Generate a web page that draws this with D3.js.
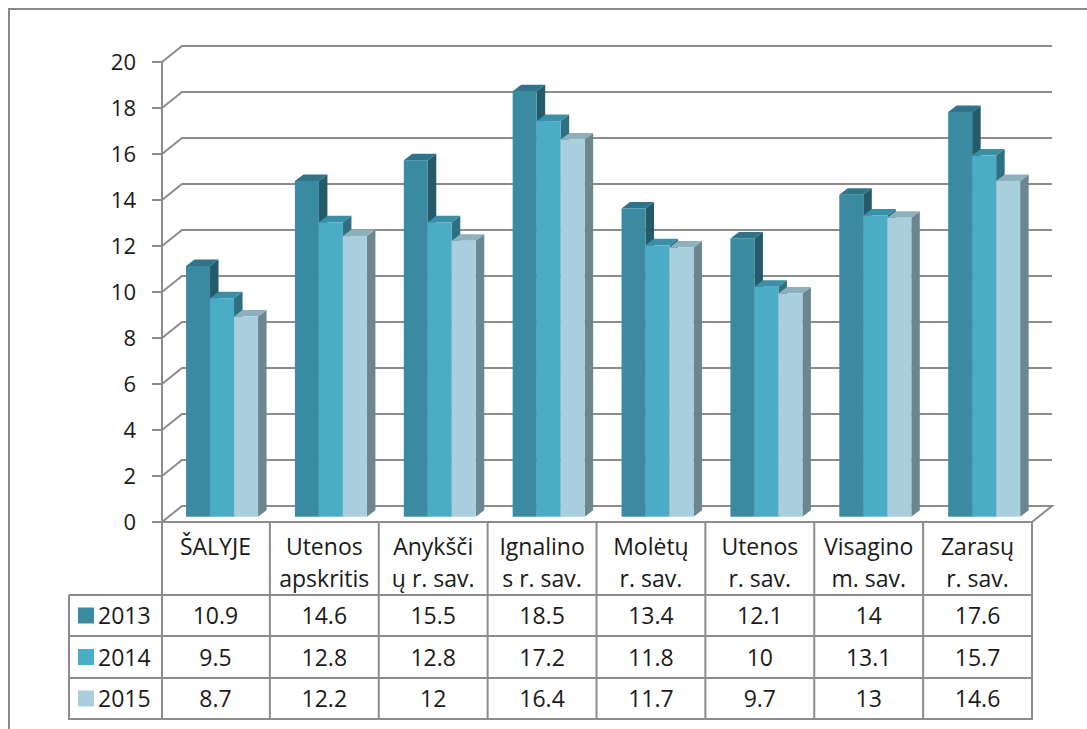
<!DOCTYPE html>
<html><head><meta charset="utf-8">
<script src="https://cdn.jsdelivr.net/npm/d3@7"></script>
<style>body{margin:0;background:#fff;} svg{display:block;} text{font-family:"Open Sans",sans-serif;fill:#1a1a1a;}</style>
</head><body>
<svg id="c" width="1087" height="729"></svg>
<script>
const categories = [["ŠALYJE"],["Utenos","apskritis"],["Anykšči","ų r. sav."],["Ignalino","s r. sav."],["Molėtų","r. sav."],["Utenos","r. sav."],["Visagino","m. sav."],["Zarasų","r. sav."]];
const seriesNames = ["2013","2014","2015"];
const v2013 = [10.9,14.6,15.5,18.5,13.4,12.1,14,17.6];
const v2014 = [9.5,12.8,12.8,17.2,11.8,10,13.1,15.7];
const v2015 = [8.7,12.2,12,16.4,11.7,9.7,13,14.6];
const yTicks = [0,2,4,6,8,10,12,14,16,18,20];
const labels2013 = ["10.9","14.6","15.5","18.5","13.4","12.1","14","17.6"];
const labels2014 = ["9.5","12.8","12.8","17.2","11.8","10","13.1","15.7"];
const labels2015 = ["8.7","12.2","12","16.4","11.7","9.7","13","14.6"];

const series = [v2013, v2014, v2015];
const seriesLabels = [labels2013, labels2014, labels2015];
const front = ["#3a8ba1","#4bacc6","#a9cfde"];
const top_ = ["#2f7488","#3a8ea5","#8eb0bd"];
const side = ["#245a6a","#2e6f81","#6c8690"];

const svg = d3.select("#c");
const grid = "#8c8c8c";
const X0 = 161, X1 = 1032, DX = 20, DY = -16;
const y = d3.scaleLinear().domain([0,20]).range([522,62]);
const x = d3.scaleBand().domain(d3.range(categories.length)).range([X0,X1]);

// outer frame
svg.append("path").attr("d","M9,729 L9,9 L1087,9").attr("fill","none").attr("stroke","#8a8a8a").attr("stroke-width",2);

// gridlines on left wall + back wall
const g = svg.append("g");
yTicks.forEach(t=>{
  const yy = y(t);
  if (t>0) {
    g.append("path").attr("d",`M${X0+1},${yy} L${X0+1+DX},${yy+DY} L${X1+DX},${yy+DY}`)
      .attr("fill","none").attr("stroke",grid).attr("stroke-width",2);
  }
  g.append("line").attr("x1",152).attr("x2",X0+1).attr("y1",yy).attr("y2",yy).attr("stroke",grid).attr("stroke-width",2);
  g.append("text").attr("x",136).attr("y",yy+8).attr("text-anchor","end").attr("font-size",22).text(t);
});
// floor
g.append("path").attr("d",`M${X0+1},522 L${X0+1+DX},${522+DY} L${X1+DX},${522+DY} L${X1},522`)
  .attr("fill","none").attr("stroke",grid).attr("stroke-width",2);
// axis
g.append("line").attr("x1",X0+1).attr("x2",X0+1).attr("y1",y(20)).attr("y2",522).attr("stroke",grid).attr("stroke-width",2);

// bars
const bw = 24, bdx = 8.5, bdy = -6.5, offX = 6.6, offY = -5.3;
const bars = svg.append("g");
categories.forEach((c,i)=>{
  const cx = x(i) + x.bandwidth()/2 + offX;
  series.forEach((s,k)=>{
    const x0 = cx - 1.5*bw + k*bw, x1 = x0 + bw;
    const yb = y(0) + offY, yt = y(s[i]) + offY;
    bars.append("path").attr("d",`M${x1},${yb} L${x1+bdx},${yb+bdy} L${x1+bdx},${yt+bdy} L${x1},${yt} Z`).attr("fill",side[k]);
    bars.append("path").attr("d",`M${x0},${yt} L${x0+bdx},${yt+bdy} L${x1+bdx},${yt+bdy} L${x1},${yt} Z`).attr("fill",top_[k]);
    bars.append("rect").attr("x",x0).attr("y",yt).attr("width",bw).attr("height",yb-yt).attr("fill",front[k]);
  });
});

// data table
const t = svg.append("g");
const rowY = [522,595,636,678,719];
const fs = 23;
// horizontal lines
t.append("line").attr("x1",X0).attr("x2",X1).attr("y1",522).attr("y2",522).attr("stroke",grid).attr("stroke-width",2);
[595,636,678,719].forEach(yy=>t.append("line").attr("x1",69).attr("x2",X1).attr("y1",yy).attr("y2",yy).attr("stroke",grid).attr("stroke-width",2));
// vertical lines
t.append("line").attr("x1",69).attr("x2",69).attr("y1",595).attr("y2",720).attr("stroke",grid).attr("stroke-width",2);
d3.range(categories.length+1).forEach(i=>{
  const xx = i<categories.length ? x(i) : X1;
  t.append("line").attr("x1",xx+(i===0?1:0)).attr("x2",xx+(i===0?1:0)).attr("y1",522).attr("y2",720).attr("stroke",grid).attr("stroke-width",2);
});
// headers
categories.forEach((c,i)=>{
  const cx = x(i)+x.bandwidth()/2;
  c.forEach((line,j)=>{
    t.append("text").attr("x",cx).attr("y",555+j*32).attr("text-anchor","middle").attr("font-size",fs).text(line);
  });
});
// rows
seriesNames.forEach((n,k)=>{
  const cy = (rowY[k+1]+rowY[k+2])/2;
  t.append("rect").attr("x",78).attr("y",cy-8).attr("width",16).attr("height",16).attr("fill",front[k]);
  t.append("text").attr("x",98).attr("y",cy+8.5).attr("font-size",fs).text(n);
  seriesLabels[k].forEach((lab,i)=>{
    t.append("text").attr("x",x(i)+x.bandwidth()/2).attr("y",cy+8.5).attr("text-anchor","middle").attr("font-size",fs).text(lab);
  });
});
</script>
</body></html>
